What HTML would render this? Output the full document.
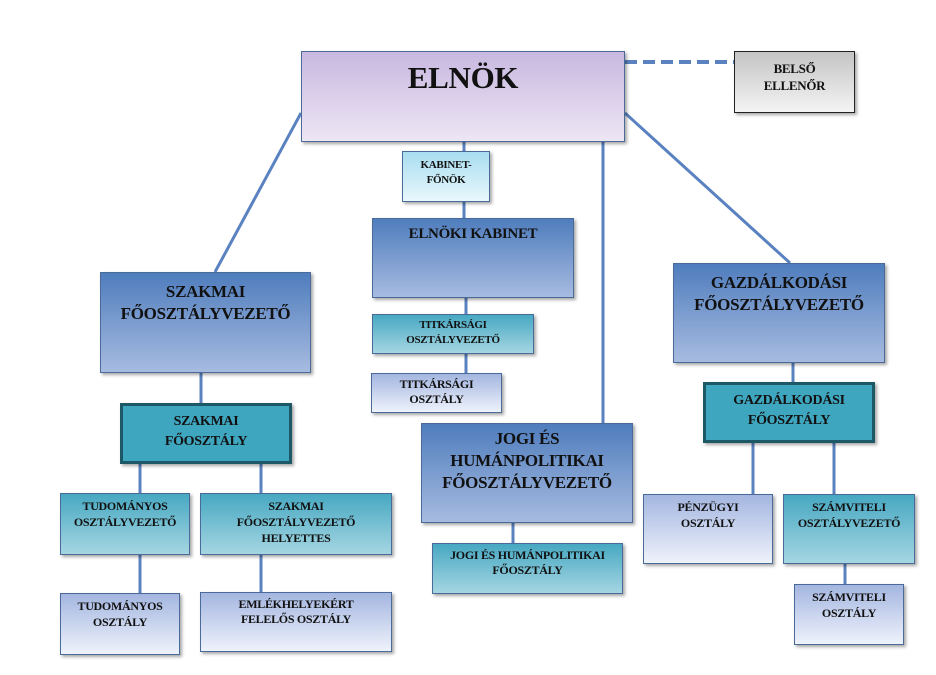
<!DOCTYPE html><html><head><meta charset="utf-8"><style>
body{margin:0;width:936px;height:675px;background:#fff;position:relative;overflow:hidden;font-family:"Liberation Serif",serif;}
.b{position:absolute;box-sizing:border-box;border:1px solid #4a6a9a;text-align:center;font-weight:bold;color:#111;font-size:13px;line-height:17px;box-shadow:2px 2px 3px rgba(0,0,0,.35);padding-top:4px;letter-spacing:-0.3px}
.blue{background:linear-gradient(#4f7dbd,#a7bbe0);font-size:17px;line-height:22px;padding-top:8px}
.teal{background:linear-gradient(#47a8c2,#a5d6e2)}
.light{background:linear-gradient(#a4b6e0,#eef2fb)}
.main{background:#3fa6bf;border:3px solid #1d5866;font-size:14px;line-height:20px;padding-top:6px}
svg{position:absolute;left:0;top:0}
</style></head><body>
<svg width="936" height="675">
<g stroke="#5a82c0" stroke-width="3" fill="none">
<line x1="301" y1="113" x2="215" y2="272"/>
<line x1="625" y1="113" x2="790" y2="263"/>
<line x1="603" y1="142" x2="603" y2="423"/>
<line x1="464" y1="142" x2="464" y2="218"/>
<line x1="466" y1="298" x2="466" y2="373"/>
<line x1="201" y1="373" x2="201" y2="403"/>
<line x1="140" y1="464" x2="140" y2="593"/>
<line x1="261" y1="464" x2="261" y2="592"/>
<line x1="513" y1="523" x2="513" y2="543"/>
<line x1="793" y1="363" x2="793" y2="382"/>
<line x1="753" y1="443" x2="753" y2="494"/>
<line x1="834" y1="443" x2="834" y2="494"/>
<line x1="845" y1="564" x2="845" y2="584"/>
<line x1="625" y1="62" x2="734" y2="62" stroke-dasharray="12,6" stroke-width="4"/>
</g></svg>
<div class="b" style="left:301px;top:51px;width:324px;height:91px;background:linear-gradient(#c8b8e0,#ede6f4);font-size:31px;line-height:36px;padding-top:8px">ELNÖK</div>
<div class="b" style="left:734px;top:51px;width:121px;height:62px;background:linear-gradient(#c4c4c4,#f4f4f4);border-color:#222;padding-top:8px">BELSŐ<br>ELLENŐR</div>
<div class="b" style="left:402px;top:151px;width:88px;height:51px;background:linear-gradient(#a8ddf0,#e8f7fc);font-size:11px;line-height:15px;padding-top:6px">KABINET-<br>FŐNÖK</div>
<div class="b blue" style="left:372px;top:218px;width:202px;height:80px;font-size:15px;padding-top:4px">ELNÖKI KABINET</div>
<div class="b teal" style="left:372px;top:314px;width:162px;height:40px;font-size:11px;line-height:15px;padding-top:3px">TITKÁRSÁGI<br>OSZTÁLYVEZETŐ</div>
<div class="b light" style="left:371px;top:373px;width:131px;height:40px;font-size:12px;line-height:15px;padding-top:3px">TITKÁRSÁGI<br>OSZTÁLY</div>
<div class="b blue" style="left:421px;top:423px;width:212px;height:100px;padding-top:4px">JOGI ÉS<br>HUMÁNPOLITIKAI<br>FŐOSZTÁLYVEZETŐ</div>
<div class="b teal" style="left:432px;top:543px;width:191px;height:51px;font-size:12px;line-height:15px">JOGI ÉS HUMÁNPOLITIKAI<br>FŐOSZTÁLY</div>
<div class="b blue" style="left:100px;top:272px;width:211px;height:101px">SZAKMAI<br>FŐOSZTÁLYVEZETŐ</div>
<div class="b main" style="left:120px;top:403px;width:172px;height:61px">SZAKMAI<br>FŐOSZTÁLY</div>
<div class="b teal" style="left:60px;top:493px;width:130px;height:62px;font-size:12px;line-height:16px">TUDOMÁNYOS<br>OSZTÁLYVEZETŐ</div>
<div class="b teal" style="left:200px;top:493px;width:192px;height:62px;font-size:12px;line-height:16px">SZAKMAI<br>FŐOSZTÁLYVEZETŐ<br>HELYETTES</div>
<div class="b light" style="left:60px;top:593px;width:120px;height:62px;font-size:12px;line-height:16px">TUDOMÁNYOS<br>OSZTÁLY</div>
<div class="b light" style="left:200px;top:592px;width:192px;height:60px;font-size:12px;line-height:15px">EMLÉKHELYEKÉRT<br>FELELŐS OSZTÁLY</div>
<div class="b blue" style="left:673px;top:263px;width:212px;height:100px">GAZDÁLKODÁSI<br>FŐOSZTÁLYVEZETŐ</div>
<div class="b main" style="left:703px;top:382px;width:172px;height:61px">GAZDÁLKODÁSI<br>FŐOSZTÁLY</div>
<div class="b light" style="left:643px;top:494px;width:130px;height:70px;font-size:12px;line-height:16px">PÉNZÜGYI<br>OSZTÁLY</div>
<div class="b teal" style="left:783px;top:494px;width:132px;height:70px;font-size:12px;line-height:16px">SZÁMVITELI<br>OSZTÁLYVEZETŐ</div>
<div class="b light" style="left:794px;top:584px;width:110px;height:61px;font-size:12px;line-height:16px">SZÁMVITELI<br>OSZTÁLY</div>
</body></html>
